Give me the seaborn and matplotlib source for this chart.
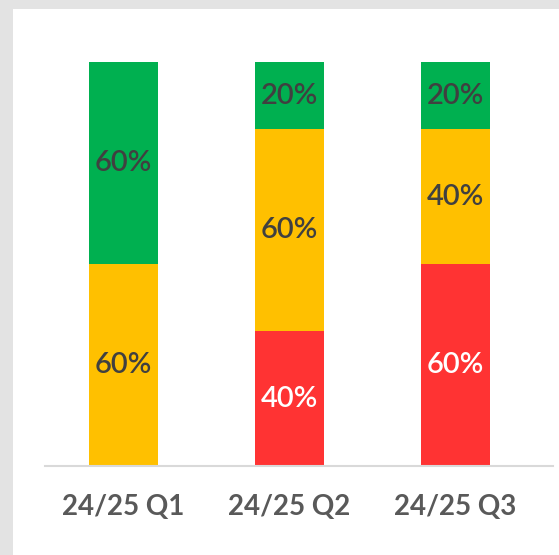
import numpy as np
import pandas as pd
import matplotlib.pyplot as plt
import seaborn as sns
from matplotlib.patches import Rectangle

quarters = ['24/25 Q1', '24/25 Q2', '24/25 Q3']
red_vals = [0, 40, 60]
yellow_vals = [60, 60, 40]
green_vals = [60, 20, 20]

colors = {'red': '#ff3333', 'yellow': '#ffc000', 'green': '#00b050'}

df = pd.DataFrame({'quarter': quarters, 'red': red_vals,
                   'yellow': yellow_vals, 'green': green_vals})
total = df[['red', 'yellow', 'green']].sum(axis=1)
# 100% stacked: heights are shares, labels show the raw values
share = df[['red', 'yellow', 'green']].div(total, axis=0)
cum = share.cumsum(axis=1)

sns.set_style('white')
plt.rcParams['font.family'] = ['Lato', 'DejaVu Sans']

fig = plt.figure(figsize=(5.59, 5.55), dpi=100)
fig.patch.set_facecolor('#e3e3e3')
bg = Rectangle((13 / 559, 0), 1, 1 - 9 / 555, transform=fig.transFigure,
               facecolor='white', edgecolor='none', zorder=-10)
fig.add_artist(bg)

ax = fig.add_axes([45 / 559, (555 - 466) / 555, 508 / 559, (466 - 62) / 555])
ax.set_facecolor('none')
ax.set_zorder(5)

# draw from the top of the stack down so each layer covers the one above
for key in ['green', 'yellow', 'red']:
    plot_df = pd.DataFrame({'quarter': quarters, 'h': cum[key].values})
    sns.barplot(data=plot_df, x='quarter', y='h', color=colors[key],
                saturation=1, width=0.416, ax=ax, linewidth=0)

bottoms = cum.shift(1, axis=1).fillna(0)
for i in range(len(quarters)):
    for key in ['red', 'yellow', 'green']:
        v = df.loc[i, key]
        if v == 0:
            continue
        mid = bottoms.loc[i, key] + share.loc[i, key] / 2
        tc = 'white' if key == 'red' else '#404040'
        ax.text(i, mid, f'{v}%', ha='center', va='center', fontsize=21,
                color=tc, fontweight='semibold')

ax.set_xlim(-0.473, 2.587)
ax.set_ylim(0, 1)
ax.set_yticks([])
ax.set_xlabel('')
ax.set_ylabel('')
for s in ['top', 'right', 'left']:
    ax.spines[s].set_visible(False)
ax.spines['bottom'].set_color('#d9d9d9')
ax.spines['bottom'].set_linewidth(1.5)
ax.tick_params(axis='x', length=0, pad=20, labelsize=20, labelcolor='#595959')
for t in ax.get_xticklabels():
    t.set_fontweight('bold')

fig.savefig('out.png', dpi=100, facecolor=fig.get_facecolor())
